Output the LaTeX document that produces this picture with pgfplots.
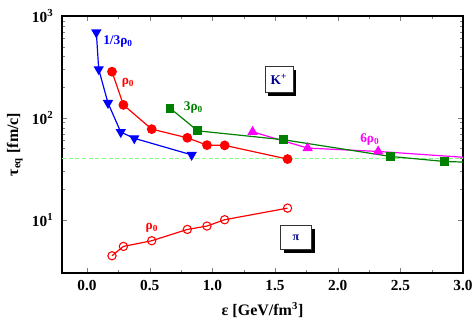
\documentclass[border=0pt]{standalone}
\usepackage{pgfplots}
\pgfplotsset{compat=1.18}
\usepackage{fontspec}
\setmainfont{Liberation Serif}
\usetikzlibrary{shadows}
\definecolor{cblue}{RGB}{0,0,255}
\definecolor{cred}{RGB}{255,0,0}
\definecolor{cgreen}{RGB}{0,128,0}
\definecolor{cmag}{RGB}{255,0,255}
\definecolor{cdash}{RGB}{128,255,128}
\definecolor{cnavy}{RGB}{0,0,139}
\newcommand{\rz}{ρ\textsubscript{\textbf{0}}}
\begin{document}
\begin{tikzpicture}
\begin{axis}[
  scale only axis,
  width=300.75pt, height=192.75pt,
  xmin=-0.2, xmax=3.0,
  ymode=log, ymin=3, ymax=1000,
  xtick={0,0.5,1,1.5,2,2.5,3},
  xticklabels={0.0,0.5,1.0,1.5,2.0,2.5,3.0},
  minor x tick num=1,
  ytick={10,100,1000},
  yticklabels={10\textsuperscript{1},10\textsuperscript{2},10\textsuperscript{3}},
  tick align=inside,
  major tick length=4pt, minor tick length=2.2pt,
  ticklabel style={font=\fontsize{11.5}{12}\selectfont\bfseries},
  xticklabel style={yshift=-2pt},
  yticklabel style={xshift=-3pt},
  xlabel={ε [GeV/fm\textsuperscript{3}]},
  ylabel={τ\textsubscript{eq} [fm/c]},
  xlabel style={yshift=-2pt},
  label style={font=\fontsize{12}{13}\selectfont\bfseries},
  every axis plot/.append style={line width=0.9pt},
  axis line style={line width=0.8pt},
  clip=true,
]
\addplot[cdash, dashed, dash pattern=on 3pt off 2pt, line width=0.8pt] coordinates {(-0.2,40) (3.0,40)};

% pi, rho0 (open circles)
\addplot[cred, mark=o, mark size=3.1pt, mark options={fill=white, line width=0.8pt}] coordinates {
(0.199,4.43) (0.290,5.47) (0.516,6.22) (0.800,8.03) (0.957,8.67) (1.098,10.0) (1.600,13.0)};

% 6 rho0
\addplot[cmag, mark=triangle*, mark size=3.6pt, mark indices={1,2,3}] coordinates {
(1.321,73.0) (1.760,50.5) (2.323,46.8) (3.2,39.5)};

% 3 rho0
\addplot[cgreen, mark=square*, mark size=2.9pt, mark indices={1,2,3,4,5}] coordinates {
(0.662,124.5) (0.883,74.6) (1.571,60.9) (2.422,41.8) (2.855,37.3) (3.2,36.2)};

% rho0 (K+)
\addplot[cred, mark=*, mark size=3.2pt] coordinates {
(0.199,284) (0.290,134) (0.516,77.5) (0.800,63.7) (0.957,54.0) (1.098,53.7) (1.600,39.4)};

% 1/3 rho0
\addplot[cblue, mark=triangle*, mark size=3.6pt, mark options={rotate=180}] coordinates {
(0.074,690) (0.093,300) (0.167,140) (0.269,72.5) (0.377,63.0) (0.835,43.3)};

\node[cblue, font=\fontsize{10}{11}\selectfont\bfseries] at (axis cs:0.247,556) {1/3\rz};
\node[cred, font=\fontsize{10}{11}\selectfont\bfseries] at (axis cs:0.327,223) {\rz};
\node[cgreen, font=\fontsize{10}{11}\selectfont\bfseries] at (axis cs:0.849,125) {3\rz};
\node[cmag, font=\fontsize{10}{11}\selectfont\bfseries] at (axis cs:2.257,60.8) {6\rz};
\node[cred, font=\fontsize{10}{11}\selectfont\bfseries] at (axis cs:0.518,8.4) {\rz};

\node[draw=black!80, line width=0.6pt, fill=white, minimum width=21pt, minimum height=20pt,
  drop shadow={shadow xshift=2.5pt, shadow yshift=-2.5pt, fill=black, opacity=1},
  text=cnavy, font=\fontsize{10}{11}\selectfont\bfseries] at (axis cs:1.531,238) {K\textsuperscript{+}};
\node[draw=black!80, line width=0.6pt, fill=white, minimum width=23.5pt, minimum height=18pt,
  drop shadow={shadow xshift=2.5pt, shadow yshift=-2.5pt, fill=black, opacity=1},
  text=cnavy, font=\fontsize{9}{10}\selectfont\bfseries] at (axis cs:1.667,6.66) {π};
\end{axis}
\pgfresetboundingbox
\path (current axis.south west) ++(-46.5pt,-40.5pt) rectangle ++(357pt,245.25pt);
\end{tikzpicture}
\end{document}
